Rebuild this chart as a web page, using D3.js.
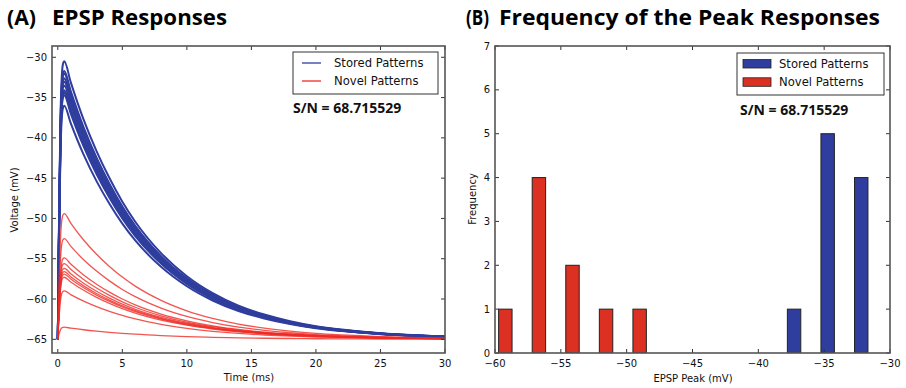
<!DOCTYPE html>
<html>
<head>
<meta charset="utf-8">
<script src="https://cdn.jsdelivr.net/npm/d3@7"></script>
<style>
    body { margin: 0; background: #fff; }
    #chart { width: 906px; height: 388px; }
    .tick-label { font-family: "DejaVu Sans", sans-serif; font-size: 10px; fill: #111; }
    .axis-label { font-family: "DejaVu Sans", sans-serif; font-size: 10px; fill: #111; }
    .legend-label { font-family: "DejaVu Sans", sans-serif; font-size: 11.6px; fill: #111; }
    .panel-title { font-family: "Open Sans", sans-serif; font-weight: bold; font-size: 21px; fill: #000; }
    .sn-label { font-family: "Open Sans", sans-serif; font-weight: bold; font-size: 14px; fill: #111; }
</style>
</head>
<body>
<div id="chart"></div>
<script>

// ---- data ----

// resting potential and the common EPSP time course (fraction of peak amplitude)
const restMv = -65;
const timeMs = [0, 0.1, 0.2, 0.3, 0.4, 0.5, 1, 2, 3, 4, 5, 6, 8, 10, 12, 14, 16, 18, 20, 22, 25, 28, 30];
const profile = [0, 0.45, 0.78, 0.94, 0.99, 1, 0.925, 0.79, 0.677, 0.58, 0.495, 0.423, 0.31, 0.227, 0.166, 0.121, 0.089, 0.065, 0.047, 0.035, 0.022, 0.014, 0.01];

// peak voltage of every trace (mV)
const storedPeaks = [-30.5, -31.7, -32.0, -32.6, -33.0, -33.5, -34.1, -34.4, -34.7, -36.0];
const novelPeaks = [-49.4, -52.5, -54.9, -55.6, -56.2, -56.6, -56.9, -57.3, -59.0, -63.5];

// histogram of the peaks
const binEdges = [-61.0, -58.45, -55.9, -53.35, -50.8, -48.25, -45.7, -43.15, -40.6, -38.05, -35.5, -32.95, -30.4];
const storedCounts = [0, 0, 0, 0, 0, 0, 0, 0, 0, 1, 5, 4];
const novelCounts = [1, 4, 2, 1, 1, 0, 0, 0, 0, 0, 0, 0];

// ticks
const timeTicks = [0, 5, 10, 15, 20, 25, 30];
const voltTicks = [-65, -60, -55, -50, -45, -40, -35, -30];
const peakTicks = [-60, -55, -50, -45, -40, -35, -30];
const freqTicks = [0, 1, 2, 3, 4, 5, 6, 7];

const seriesNames = ["Stored Patterns", "Novel Patterns"];
const snText = "S/N = 68.715529";

const blue = "#2f3e9e";
const red = "#ee2a24";
const barRed = "#dc3022";

const minus = s => String(s).replace("-", "\u2212");

const svg = d3.select("#chart").append("svg")
    .attr("width", 906)
    .attr("height", 388);

// draws frame, inward ticks on all four sides and tick labels
function drawFrame(g, x, y, xTicks, yTicks) {
    let [x0, x1] = x.range();
    let [y0, y1] = y.range();

    g.append("g").selectAll("line.xt")
        .data(xTicks).enter()
        .append("line")
        .attr("x1", d => x(d)).attr("x2", d => x(d))
        .attr("y1", y0).attr("y2", y0 - 4)
        .attr("stroke", "#333");
    g.append("g").selectAll("line.xt2")
        .data(xTicks).enter()
        .append("line")
        .attr("x1", d => x(d)).attr("x2", d => x(d))
        .attr("y1", y1).attr("y2", y1 + 4)
        .attr("stroke", "#333");
    g.append("g").selectAll("line.yt")
        .data(yTicks).enter()
        .append("line")
        .attr("x1", x0).attr("x2", x0 + 4)
        .attr("y1", d => y(d)).attr("y2", d => y(d))
        .attr("stroke", "#333");
    g.append("g").selectAll("line.yt2")
        .data(yTicks).enter()
        .append("line")
        .attr("x1", x1).attr("x2", x1 - 4)
        .attr("y1", d => y(d)).attr("y2", d => y(d))
        .attr("stroke", "#333");

    g.append("rect")
        .attr("x", x0).attr("y", y1)
        .attr("width", x1 - x0).attr("height", y0 - y1)
        .attr("fill", "none")
        .attr("stroke", "#555")
        .attr("stroke-width", 1.6);

    g.append("g").selectAll("text")
        .data(xTicks).enter()
        .append("text")
        .attr("class", "tick-label")
        .attr("x", d => x(d))
        .attr("y", y0 + 14)
        .attr("text-anchor", "middle")
        .text(d => minus(d));
    g.append("g").selectAll("text")
        .data(yTicks).enter()
        .append("text")
        .attr("class", "tick-label")
        .attr("x", x0 - 5)
        .attr("y", d => y(d) + 3.5)
        .attr("text-anchor", "end")
        .text(d => minus(d));
}

// title pieces, stretched to the widths seen in the picture
function drawTitle(g, x, y, text, width) {
    g.append("text").attr("class", "panel-title")
        .attr("x", x).attr("y", y)
        .attr("textLength", width)
        .attr("lengthAdjust", "spacingAndGlyphs")
        .text(text);
}

// ---- panel A: EPSP traces ----
const xA = d3.scaleLinear().domain([-0.45, 30]).range([52, 445]);
const yA = d3.scaleLinear().domain([-66.7, -28.6]).range([353, 46]);

const gA = svg.append("g");

const line = d3.line()
    .x(d => xA(d.t))
    .y(d => yA(d.v))
    .curve(d3.curveMonotoneX);

const trace = peak => timeMs.map((t, i) => ({t: t, v: restMv + (peak - restMv) * profile[i]}));

gA.append("defs").append("clipPath").attr("id", "clipA")
    .append("rect").attr("x", 52).attr("y", 46).attr("width", 393).attr("height", 307);

const traces = gA.append("g").attr("clip-path", "url(#clipA)");
traces.selectAll(".stored")
    .data(storedPeaks).enter()
    .append("path")
    .attr("class", "stored")
    .attr("d", d => line(trace(d)))
    .attr("fill", "none")
    .attr("stroke", blue)
    .attr("stroke-width", 2);
traces.selectAll(".novel")
    .data(novelPeaks).enter()
    .append("path")
    .attr("class", "novel")
    .attr("d", d => line(trace(d)))
    .attr("fill", "none")
    .attr("stroke", red)
    .attr("stroke-opacity", 0.8)
    .attr("stroke-width", 1.3);

drawFrame(gA, xA, yA, timeTicks, voltTicks);

gA.append("text").attr("class", "axis-label")
    .attr("x", 249).attr("y", 381)
    .attr("text-anchor", "middle")
    .text("Time (ms)");
gA.append("text").attr("class", "axis-label")
    .attr("transform", "translate(18,200) rotate(-90)")
    .attr("text-anchor", "middle")
    .text("Voltage (mV)");

// legend A
const legA = gA.append("g");
legA.append("rect")
    .attr("x", 293).attr("y", 52).attr("width", 145).attr("height", 42)
    .attr("fill", "#fff").attr("stroke", "#333").attr("stroke-width", 1);
legA.selectAll("line.leg")
    .data(seriesNames).enter()
    .append("line")
    .attr("x1", 302).attr("x2", 321)
    .attr("y1", (d, i) => 63 + i * 18).attr("y2", (d, i) => 63 + i * 18)
    .attr("stroke", (d, i) => i === 0 ? blue : red)
    .attr("stroke-width", 1.3);
legA.selectAll("text")
    .data(seriesNames).enter()
    .append("text")
    .attr("class", "legend-label")
    .attr("x", 334)
    .attr("y", (d, i) => 67 + i * 18)
    .text(d => d);

gA.append("text").attr("class", "sn-label")
    .attr("x", 293).attr("y", 113)
    .text(snText);

drawTitle(gA, 7, 25, "(A)", 29);
drawTitle(gA, 52, 25, "EPSP Responses", 175);

// ---- panel B: histogram of peaks ----
const xB = d3.scaleLinear().domain([-60, -30]).range([495, 890]);
const yB = d3.scaleLinear().domain([0, 7]).range([353, 46]);

const gB = svg.append("g");

const bins = binEdges.slice(0, -1).map((e, i) => ({
    x0: e, x1: binEdges[i + 1], stored: storedCounts[i], novel: novelCounts[i]
}));

gB.append("defs").append("clipPath").attr("id", "clipB")
    .append("rect").attr("x", 495).attr("y", 46).attr("width", 395).attr("height", 307);

const bars = gB.append("g").attr("clip-path", "url(#clipB)");

// each bin holds two sub bars: stored on the left, novel on the right, 0.8 of the bin in total
bars.selectAll(".barStored")
    .data(bins.filter(d => d.stored > 0)).enter()
    .append("rect")
    .attr("class", "barStored")
    .attr("x", d => xB(d.x0 + 0.1 * (d.x1 - d.x0)))
    .attr("width", d => xB(d.x0 + 0.5 * (d.x1 - d.x0)) - xB(d.x0 + 0.1 * (d.x1 - d.x0)))
    .attr("y", d => yB(d.stored))
    .attr("height", d => yB(0) - yB(d.stored))
    .attr("fill", blue)
    .attr("stroke", "#222")
    .attr("stroke-width", 1);
bars.selectAll(".barNovel")
    .data(bins.filter(d => d.novel > 0)).enter()
    .append("rect")
    .attr("class", "barNovel")
    .attr("x", d => xB(d.x0 + 0.5 * (d.x1 - d.x0)))
    .attr("width", d => xB(d.x0 + 0.9 * (d.x1 - d.x0)) - xB(d.x0 + 0.5 * (d.x1 - d.x0)))
    .attr("y", d => yB(d.novel))
    .attr("height", d => yB(0) - yB(d.novel))
    .attr("fill", barRed)
    .attr("stroke", "#222")
    .attr("stroke-width", 1);

drawFrame(gB, xB, yB, peakTicks, freqTicks);

gB.append("text").attr("class", "axis-label")
    .attr("x", 693).attr("y", 382)
    .attr("text-anchor", "middle")
    .text("EPSP Peak (mV)");
gB.append("text").attr("class", "axis-label")
    .attr("transform", "translate(476,199) rotate(-90)")
    .attr("text-anchor", "middle")
    .text("Frequency");

// legend B
const legB = gB.append("g");
legB.append("rect")
    .attr("x", 737).attr("y", 53).attr("width", 147).attr("height", 42)
    .attr("fill", "#fff").attr("stroke", "#333").attr("stroke-width", 1);
legB.selectAll("rect.patch")
    .data(seriesNames).enter()
    .append("rect")
    .attr("class", "patch")
    .attr("x", 743).attr("width", 28)
    .attr("y", (d, i) => 59.5 + i * 18.3).attr("height", 8.5)
    .attr("fill", (d, i) => i === 0 ? blue : barRed)
    .attr("stroke", "#222").attr("stroke-width", 0.8);
legB.selectAll("text")
    .data(seriesNames).enter()
    .append("text")
    .attr("class", "legend-label")
    .attr("x", 779)
    .attr("y", (d, i) => 68 + i * 18.3)
    .text(d => d);

gB.append("text").attr("class", "sn-label")
    .attr("x", 740).attr("y", 115)
    .text(snText);

drawTitle(gB, 466, 25, "(B)", 23);
drawTitle(gB, 499, 25, "Frequency of the Peak Responses", 381);

</script>
</body>
</html>
